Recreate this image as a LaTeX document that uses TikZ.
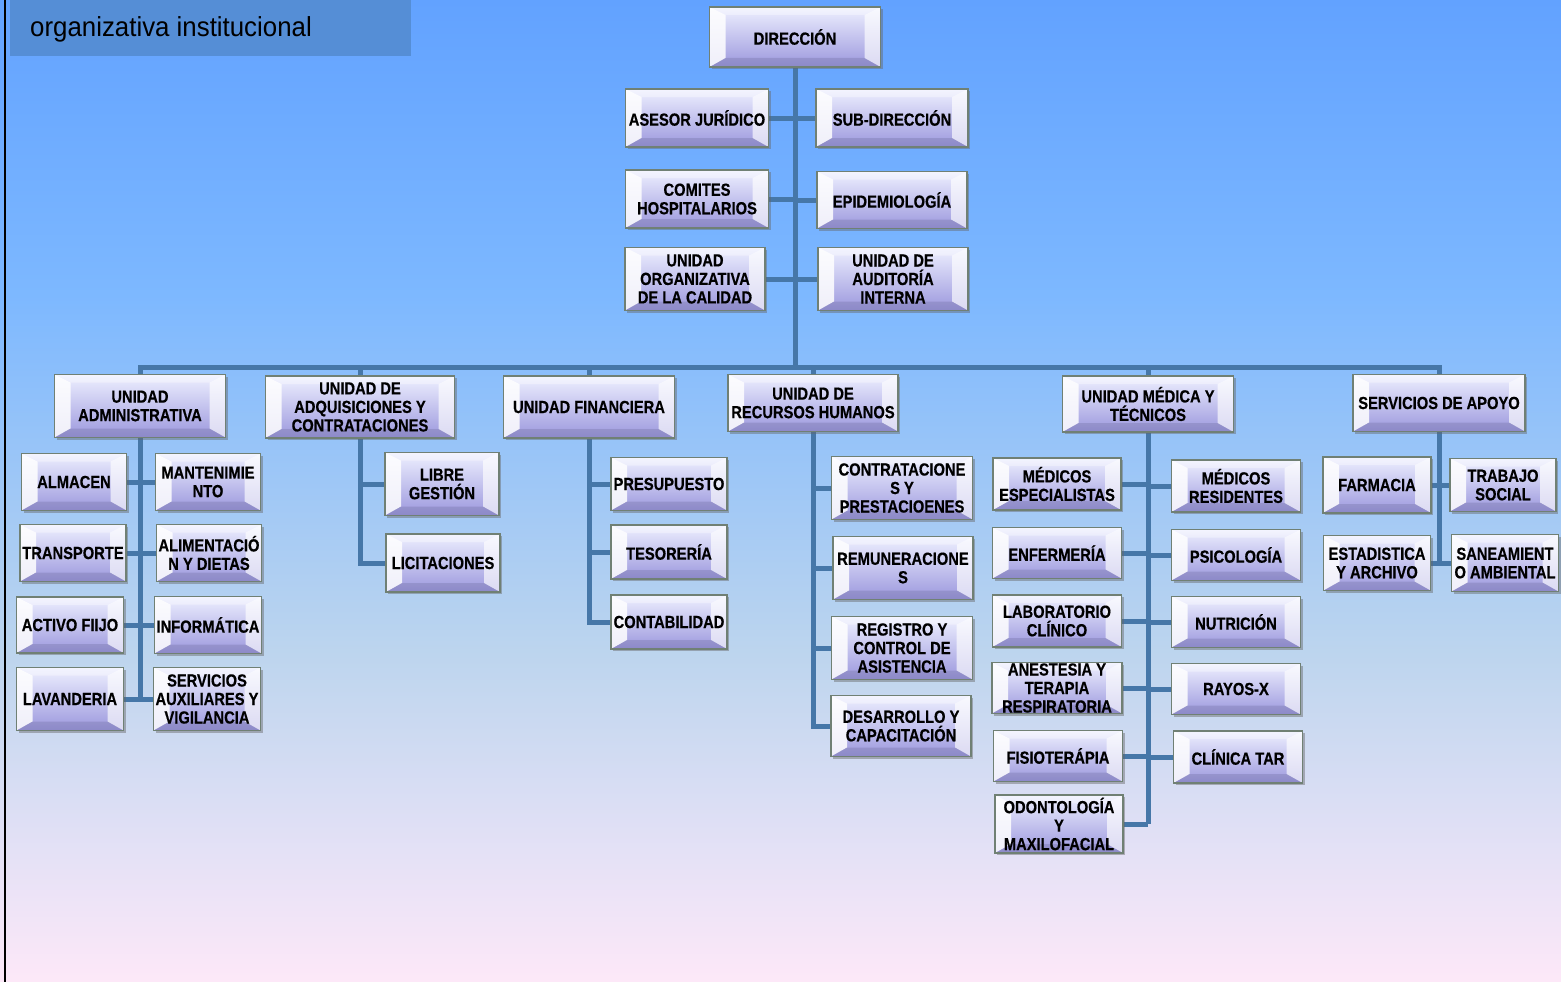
\documentclass[tikz,border=0pt]{standalone}
\usepackage{fontspec}
\setmainfont{Liberation Sans}
\newfontfamily\bxf{Liberation Sans}[FakeStretch=0.84,FakeBold=0.5]
\newfontfamily\ttlf{Liberation Sans}[FakeStretch=0.94]
\usetikzlibrary{shadows,calc}
\definecolor{conn}{RGB}{70,119,168}
\definecolor{titlebg}{RGB}{85,142,214}
\definecolor{bgA}{RGB}{98,162,255}
\definecolor{bgB}{RGB}{125,184,255}
\definecolor{bgC}{RGB}{189,213,238}
\definecolor{bgD}{RGB}{228,225,246}
\definecolor{bgE}{RGB}{253,232,248}
\definecolor{boxtop}{RGB}{238,240,255}
\definecolor{boxbot}{RGB}{155,151,221}
\definecolor{boxline}{RGB}{112,128,116}
\pgfdeclareverticalshading{bgshade}{100bp}{color(0bp)=(bgE); color(25bp)=(bgE); color(31.7bp)=(bgD); color(41.65bp)=(bgC); color(60bp)=(bgB); color(75bp)=(bgA); color(100bp)=(bgA)}
\pgfdeclarelayer{bglayer}
\pgfdeclarelayer{connlayer}
\pgfsetlayers{bglayer,connlayer,main}
\tikzset{
  obox/.style={draw=boxline, line width=1.1pt, top color=boxtop, bottom color=boxbot,
    align=center, inner sep=0pt, font=\bxf\bfseries\fontsize{17.5}{18.5}\selectfont,
    drop shadow={shadow xshift=2pt, shadow yshift=-2pt, fill=black!60, opacity=0.45},
    path picture={
      \fill[white,opacity=0.85] let \p1=(path picture bounding box.south west), \p2=(path picture bounding box.north east) in
        (\x1,\y1) -- (\x1+16pt,\y1+9pt) -- (\x1+16pt,\y2-8pt) -- (\x1,\y2) -- cycle;
      \fill[white,opacity=0.65] let \p1=(path picture bounding box.south west), \p2=(path picture bounding box.north east) in
        (\x2,\y1) -- (\x2-16pt,\y1+9pt) -- (\x2-16pt,\y2-8pt) -- (\x2,\y2) -- cycle;
      \fill[white,opacity=0.35] let \p1=(path picture bounding box.south west), \p2=(path picture bounding box.north east) in
        (\x1,\y2) -- (\x1+16pt,\y2-8pt) -- (\x2-16pt,\y2-8pt) -- (\x2,\y2) -- cycle;
      \fill[boxbot!70!black,opacity=0.3] let \p1=(path picture bounding box.south west), \p2=(path picture bounding box.north east) in
        (\x1,\y1) -- (\x1+16pt,\y1+9pt) -- (\x2-16pt,\y1+9pt) -- (\x2,\y1) -- cycle;
    }},
  link/.style={draw=conn, line width=5pt},
}
\newcommand\orgbox[6]{\node[obox, minimum width=#4pt, minimum height=#5pt] (#1) at (#2,#3) {#6};}
\begin{document}
\begin{tikzpicture}[x=1pt,y=-1pt]
\useasboundingbox (0,0) rectangle (1561,982);
\begin{pgfonlayer}{bglayer}
\shade[shading=bgshade] (0,0) rectangle (1561,982);
\end{pgfonlayer}
\draw[line width=2pt] (5,0) -- (5,982);
\fill[titlebg] (10,0) rectangle (411,56);
\node[anchor=base west, inner sep=0pt, font=\ttlf\fontsize{27.5}{30}\selectfont] (title) at (30,37) {organizativa institucional};

% top level
\orgbox{dir}{795}{37}{171}{60}{DIRECCIÓN}
\orgbox{ase}{697}{118}{143}{58}{ASESOR JURÍDICO}
\orgbox{sub}{892}{118}{152}{58}{SUB-DIRECCIÓN}
\orgbox{com}{697}{199}{143}{58}{COMITES\\HOSPITALARIOS}
\orgbox{epi}{892}{200}{150}{57}{EPIDEMIOLOGÍA}
\orgbox{cal}{695}{279}{140}{63}{UNIDAD\\ORGANIZATIVA\\DE LA CALIDAD}
\orgbox{aud}{893}{279}{150}{63}{UNIDAD DE\\AUDITORÍA\\INTERNA}
% level 2
\orgbox{adm}{140}{406}{171}{63}{UNIDAD\\ADMINISTRATIVA}
\orgbox{adq}{360}{407}{189}{62}{UNIDAD DE\\ADQUISICIONES Y\\CONTRATACIONES}
\orgbox{fin}{589}{407}{171}{62}{UNIDAD FINANCIERA}
\orgbox{rh}{813}{403}{170}{57}{UNIDAD DE\\RECURSOS HUMANOS}
\orgbox{med}{1148}{404}{171}{56}{UNIDAD MÉDICA Y\\TÉCNICOS}
\orgbox{apo}{1439}{403}{172}{57}{SERVICIOS DE APOYO}
% admin
\orgbox{alm}{74}{482}{105}{57}{ALMACEN}
\orgbox{man}{208}{482}{105}{57}{MANTENIMIE\\NTO}
\orgbox{tra}{73}{553}{106}{57}{TRANSPORTE}
\orgbox{ali}{209}{553}{105}{57}{ALIMENTACIÓ\\N Y DIETAS}
\orgbox{act}{70}{625}{107}{56}{ACTIVO FIIJO}
\orgbox{inf}{208}{625}{107}{57}{INFORMÁTICA}
\orgbox{lav}{70}{699}{107}{63}{LAVANDERIA}
\orgbox{ser}{207}{699}{107}{63}{SERVICIOS\\AUXILIARES Y\\VIGILANCIA}
% adquisiciones
\orgbox{lib}{442}{484}{114}{63}{LIBRE\\GESTIÓN}
\orgbox{lic}{443}{563}{114}{58}{LICITACIONES}
% financiera
\orgbox{pre}{669}{484}{116}{53}{PRESUPUESTO}
\orgbox{tes}{669}{552}{116}{54}{TESORERÍA}
\orgbox{con}{669}{622}{116}{54}{CONTABILIDAD}
% rrhh
\orgbox{ctr}{902}{488}{141}{63}{CONTRATACIONE\\S Y\\PRESTACIOENES}
\orgbox{rem}{903}{568}{140}{63}{REMUNERACIONE\\S}
\orgbox{reg}{902}{648}{141}{63}{REGISTRO Y\\CONTROL DE\\ASISTENCIA}
\orgbox{des}{901}{726}{140}{61}{DESARROLLO Y\\CAPACITACIÓN}
% medica
\orgbox{mes}{1057}{484}{128}{52}{MÉDICOS\\ESPECIALISTAS}
\orgbox{enf}{1057}{553}{129}{51}{ENFERMERÍA}
\orgbox{lab}{1057}{621}{129}{52}{LABORATORIO\\CLÍNICO}
\orgbox{ane}{1057}{688}{130}{51}{ANESTESIA Y\\TERAPIA\\RESPIRATORIA}
\orgbox{fis}{1058}{756}{129}{51}{FISIOTERÁPIA}
\orgbox{odo}{1059}{824}{128}{58}{ODONTOLOGÍA\\Y\\MAXILOFACIAL}
\orgbox{mre}{1236}{486}{129}{52}{MÉDICOS\\RESIDENTES}
\orgbox{psi}{1236}{555}{129}{51}{PSICOLOGÍA}
\orgbox{nut}{1236}{622}{129}{51}{NUTRICIÓN}
\orgbox{ray}{1236}{689}{129}{51}{RAYOS-X}
\orgbox{tar}{1238}{757}{129}{52}{CLÍNICA TAR}
% apoyo
\orgbox{far}{1377}{485}{108}{56}{FARMACIA}
\orgbox{tso}{1503}{485}{106}{53}{TRABAJO\\SOCIAL}
\orgbox{est}{1377}{563}{107}{55}{ESTADISTICA\\Y ARCHIVO}
\orgbox{san}{1505}{563}{107}{57}{SANEAMIENT\\O AMBIENTAL}

% connectors
\coordinate (bar) at (795,367);
\begin{pgfonlayer}{connlayer}
\path[link] (dir.south) -- (bar);
\path[link] (ase.east) -- (ase.east -| dir.south);
\path[link] (sub.west) -- (sub.west -| dir.south);
\path[link] (com.east) -- (com.east -| dir.south);
\path[link] (epi.west) -- (epi.west -| dir.south);
\path[link] (cal.east) -- (cal.east -| dir.south);
\path[link] (aud.west) -- (aud.west -| dir.south);
\path[link] (adm.north) |- (bar) -| (apo.north);
\path[link] (adq.north) -- (adq.north |- bar);
\path[link] (fin.north) -- (fin.north |- bar);
\path[link] (rh.north) -- (rh.north |- bar);
\path[link] (med.north) -- (med.north |- bar);
% admin
\path[link] (adm.south) -- (adm.south |- lav.east);
\foreach \n in {alm,tra,act,lav} {\path[link] (\n.east) -- (\n.east -| adm.south);}
\foreach \n in {man,ali,inf,ser} {\path[link] (\n.west) -- (\n.west -| adm.south);}
% adquisiciones
\path[link] (adq.south) |- (lib.west);
\path[link] (adq.south) |- (lic.west);
% financiera
\foreach \n in {pre,tes,con} {\path[link] (fin.south) |- (\n.west);}
% rrhh
\foreach \n in {ctr,rem,reg,des} {\path[link] (rh.south) |- (\n.west);}
% medica
\path[link] (med.south) -- (med.south |- odo.east);
\foreach \n in {mes,enf,lab,ane,fis,odo} {\path[link] (\n.east) -- (\n.east -| med.south);}
\foreach \n in {mre,psi,nut,ray,tar} {\path[link] (\n.west) -- (\n.west -| med.south);}
% apoyo
\path[link] (apo.south) -- (apo.south |- est.east);
\foreach \n in {far,est} {\path[link] (\n.east) -- (\n.east -| apo.south);}
\foreach \n in {tso,san} {\path[link] (\n.west) -- (\n.west -| apo.south);}
\end{pgfonlayer}
\end{tikzpicture}
\end{document}
